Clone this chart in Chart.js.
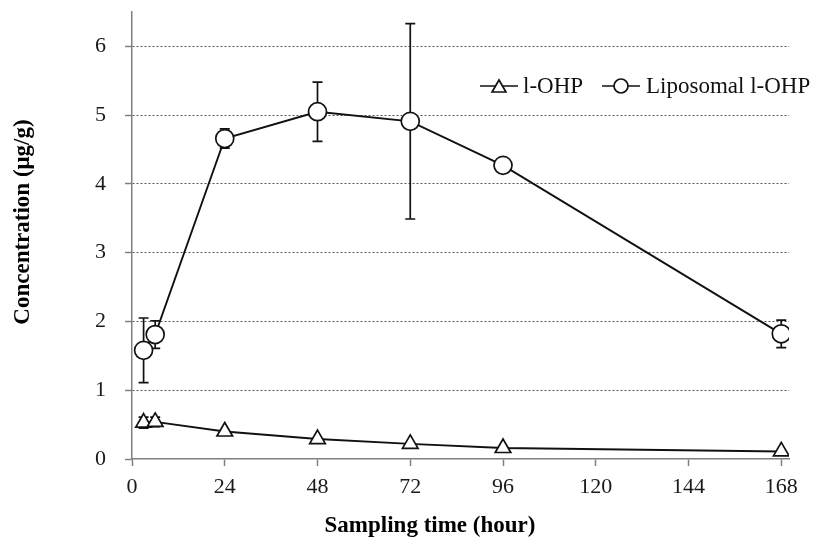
<!DOCTYPE html>
<html>
<head>
<meta charset="utf-8">
<script src="https://cdn.jsdelivr.net/npm/chart.js@4.4.0/dist/chart.umd.min.js"></script>
<style>
  html, body { margin: 0; padding: 0; background: #fff; }
  #wrap { width: 816px; height: 540px; }
</style>
</head>
<body>
<div id="wrap"><canvas id="c" width="816" height="540"></canvas></div>
<script>
// ---- data ----
const times = [3, 6, 24, 48, 72, 96, 168];
const freeOHP = [0.53, 0.54, 0.40, 0.29, 0.22, 0.16, 0.11];
const freeErr = [0.08, 0.07, 0, 0, 0, 0, 0];
const lipoOHP = [1.58, 1.81, 4.66, 5.05, 4.91, 4.27, 1.82];
const lipoErr = [0.47, 0.20, 0.14, 0.43, 1.42, 0, 0.20];
const seriesNames = ['l-OHP', 'Liposomal l-OHP'];
const xTicks = [0, 24, 48, 72, 96, 120, 144, 168];
const yTicks = [0, 1, 2, 3, 4, 5, 6];
const xTitle = 'Sampling time (hour)';
const yTitle = 'Concentration (\u03bcg/g)';

const serif = "'Liberation Serif', 'Times New Roman', serif";

const errorBars = {
  id: 'errorBars',
  beforeDatasetsDraw(chart) {
    const ctx = chart.ctx;
    const xs = chart.scales.x, ys = chart.scales.y;
    ctx.save();
    ctx.strokeStyle = '#111';
    ctx.lineWidth = 1.7;
    chart.data.datasets.forEach(ds => {
      ds.data.forEach((p, i) => {
        const e = ds.errors[i];
        if (!e) return;
        const px = xs.getPixelForValue(p.x);
        const top = ys.getPixelForValue(p.y + e);
        const bot = ys.getPixelForValue(Math.max(0, p.y - e));
        ctx.beginPath();
        ctx.moveTo(px, top); ctx.lineTo(px, bot);
        ctx.moveTo(px - 5, top); ctx.lineTo(px + 5, top);
        ctx.moveTo(px - 5, bot); ctx.lineTo(px + 5, bot);
        ctx.stroke();
      });
    });
    ctx.restore();
  }
};

function drawMarker(ctx, style, x, y, r) {
  ctx.beginPath();
  if (style === 'circle') {
    ctx.arc(x, y, r, 0, Math.PI * 2);
  } else {
    let rad = 0;
    ctx.moveTo(x + Math.sin(rad) * r, y - Math.cos(rad) * r);
    rad += 2 * Math.PI / 3;
    ctx.lineTo(x + Math.sin(rad) * r, y - Math.cos(rad) * r);
    rad += 2 * Math.PI / 3;
    ctx.lineTo(x + Math.sin(rad) * r, y - Math.cos(rad) * r);
    ctx.closePath();
  }
  ctx.fillStyle = '#fff';
  ctx.fill();
  ctx.stroke();
}

const legendAndTitles = {
  id: 'legendAndTitles',
  afterDraw(chart) {
    const ctx = chart.ctx;
    ctx.save();
    // legend
    const items = [
      { x: 480, style: 'triangle', text: seriesNames[0], tx: 523 },
      { x: 602, style: 'circle', text: seriesNames[1], tx: 646 }
    ];
    const ly = 86;
    ctx.strokeStyle = '#111';
    ctx.lineWidth = 1.7;
    ctx.font = '23px ' + serif;
    ctx.textBaseline = 'middle';
    ctx.textAlign = 'left';
    items.forEach(it => {
      ctx.beginPath();
      ctx.moveTo(it.x, ly); ctx.lineTo(it.x + 38, ly);
      ctx.stroke();
      drawMarker(ctx, it.style, it.x + 19, it.style === 'circle' ? ly : ly + 2, it.style === 'circle' ? 7 : 8);
      ctx.fillStyle = '#111';
      ctx.fillText(it.text, it.tx, ly + 1);
    });
    // axis titles
    ctx.fillStyle = '#000';
    ctx.font = 'bold 23px ' + serif;
    ctx.textAlign = 'center';
    ctx.textBaseline = 'middle';
    ctx.fillText(xTitle, 430, 526);
    ctx.translate(23, 222);
    ctx.rotate(-Math.PI / 2);
    ctx.fillText(yTitle, 0, 0);
    ctx.restore();
  }
};

function noPad(s) {
  s.paddingTop = 0; s.paddingBottom = 0; s.paddingLeft = 0; s.paddingRight = 0;
}

const chart = new Chart(document.getElementById('c'), {
  type: 'line',
  data: {
    datasets: [
      {
        label: seriesNames[0],
        data: times.map((t, i) => ({ x: t, y: freeOHP[i] })),
        errors: freeErr,
        borderColor: '#111',
        borderWidth: 1.9,
        pointStyle: 'triangle',
        pointRadius: 9,
        pointBorderWidth: 1.7,
        pointBackgroundColor: '#fff',
        pointBorderColor: '#111',
        tension: 0,
        fill: false
      },
      {
        label: seriesNames[1],
        data: times.map((t, i) => ({ x: t, y: lipoOHP[i] })),
        errors: lipoErr,
        borderColor: '#111',
        borderWidth: 1.9,
        pointStyle: 'circle',
        pointRadius: 9,
        pointBorderWidth: 1.7,
        pointBackgroundColor: '#fff',
        pointBorderColor: '#111',
        tension: 0,
        fill: false
      }
    ]
  },
  options: {
    responsive: false,
    animation: false,
    events: [],
    layout: { padding: { top: 12, right: 27, left: 0, bottom: 0 } },
    plugins: { legend: { display: false }, tooltip: { enabled: false } },
    scales: {
      x: {
        type: 'linear',
        min: 0,
        max: 170,
        afterFit(s) { s.height = 81; noPad(s); },
        afterBuildTicks(s) { s.ticks = xTicks.map(v => ({ value: v })); },
        ticks: {
          font: { family: serif, size: 22 },
          color: '#1a1a1a',
          padding: 8,
          maxRotation: 0,
          autoSkip: false
        },
        grid: {
          drawOnChartArea: false,
          drawTicks: true,
          tickLength: 7,
          tickColor: '#808080',
          tickWidth: 1.5
        },
        border: { display: true, color: '#808080', width: 1.5 },
        title: { display: false }
      },
      y: {
        type: 'linear',
        min: 0,
        max: 6.5,
        afterFit(s) { s.width = 132; noPad(s); },
        afterBuildTicks(s) { s.ticks = yTicks.map(v => ({ value: v })); },
        ticks: {
          font: { family: serif, size: 22 },
          color: '#1a1a1a',
          padding: 19,
          autoSkip: false
        },
        grid: {
          drawOnChartArea: true,
          drawTicks: true,
          tickLength: 7,
          color: c => (c.tick && c.tick.value === 0) ? 'rgba(0,0,0,0)' : '#555',
          lineWidth: 1,
          tickColor: '#808080',
          tickWidth: 1.5,
          tickBorderDash: []
        },
        border: { display: true, color: '#808080', width: 1.5, dash: [2, 2] },
        title: { display: false }
      }
    }
  },
  plugins: [errorBars, legendAndTitles]
});
</script>
</body>
</html>
